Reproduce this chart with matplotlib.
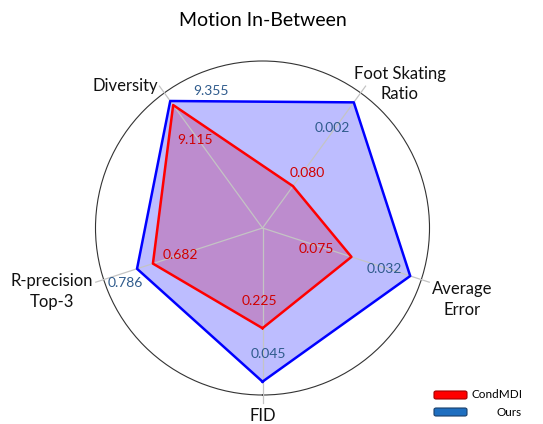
import numpy as np
import matplotlib
matplotlib.use("Agg")
import matplotlib.pyplot as plt
from matplotlib.patches import FancyBboxPatch

plt.rcParams['font.family'] = ['Lato', 'DejaVu Sans']

# axes in drawing order (counter-clockwise starting at the bottom)
categories = ["FID", "Average\nError", "Foot Skating\nRatio", "Diversity", "R-precision\nTop-3"]
series_names = ["CondMDI", "Ours"]

# normalised radar scores (0 = centre, 1 = outer circle)
condmdi_score = [0.60, 0.56, 0.31, 0.91, 0.69]
ours_score = [0.92, 0.93, 0.93, 0.94, 0.79]

# raw metric values printed next to each vertex
condmdi_text = ["0.225", "0.075", "0.080", "9.115", "0.682"]
ours_text = ["0.045", "0.032", "0.002", "9.355", "0.786"]

W, H = 543, 424
fig = plt.figure(figsize=(W / 100, H / 100), dpi=100)

cx, cy, R = 262.5, 228, 167
ax = fig.add_axes([(cx - R) / W, (H - cy - R) / H, 2 * R / W, 2 * R / H], projection='polar')
ax.set_theta_offset(-np.pi / 2)
ax.set_ylim(0, 1)
ax.set_xticks([])
ax.set_yticks([])
ax.grid(False)
ax.spines['polar'].set_color('#333333')
ax.spines['polar'].set_linewidth(0.8)

n = len(categories)
angles = np.arange(n) * 2 * np.pi / n

# spokes, running a bit past the circle, drawn over the fills
for a in angles:
    ax.plot([a, a], [0, 1.05], color='#c4c4c4', lw=0.9, clip_on=False, zorder=3.5)

closed = np.append(angles, angles[0])
ours_c = np.append(ours_score, ours_score[0])
cond_c = np.append(condmdi_score, condmdi_score[0])

# red fill first, blue laid over it -> purple overlap
ax.fill(closed, cond_c, color='#ff0000', alpha=0.26, lw=0, zorder=2)
ax.fill(closed, ours_c, color='#0000ff', alpha=0.26, lw=0, zorder=3)
ax.plot(closed, ours_c, color='#0000ff', lw=1.8, zorder=4)
ax.plot(closed, cond_c, color='#ff0000', lw=1.8, zorder=5)

# label offsets in pixels from each vertex
ours_off = [(6, 28), (-26, 7), (-21, -26), (41, 10), (-12, -14)]
cond_off = [(-3, 27), (-35, 8), (14, 13), (22, -35), (27, 9)]

for i in range(n):
    ax.annotate(ours_text[i], (angles[i], ours_score[i]), xytext=ours_off[i],
                textcoords='offset pixels', ha='center', va='center',
                color='#2f5b8c', fontsize=10, zorder=6)
    ax.annotate(condmdi_text[i], (angles[i], condmdi_score[i]), xytext=cond_off[i],
                textcoords='offset pixels', ha='center', va='center',
                color='#d00000', fontsize=10, zorder=6)

# category labels, offset from the tip of each spoke
cat_off = [(0, -21), (41, -20), (39, 9), (-39, 7), (-52, -12)]
for i in range(n):
    ax.annotate(categories[i], (angles[i], 1.0), xytext=cat_off[i],
                textcoords='offset pixels', ha='center', va='center',
                fontsize=12, color='#111111', linespacing=1.35,
                annotation_clip=False)

fig.text(cx / W, 1 - 20 / H, "Motion In-Between", ha='center', va='center', fontsize=14)

# legend, drawn by hand so the labels are right aligned
leg_colors = [('#ff0000', '#a00000'), ('#1f6fc0', '#1a3f6a')]
leg_y = [395, 412]
for name, (fc, ec), y in zip(series_names, leg_colors, leg_y):
    box = FancyBboxPatch((434 / W, 1 - (y + 4) / H), 33 / W, 8 / H,
                         boxstyle='round,pad=0,rounding_size=0.004',
                         transform=fig.transFigure, fc=fc, ec=ec, lw=0.8)
    fig.add_artist(box)
    fig.text(522 / W, 1 - y / H, name, ha='right', va='center', fontsize=8.5)

fig.savefig('out.png', dpi=100)
